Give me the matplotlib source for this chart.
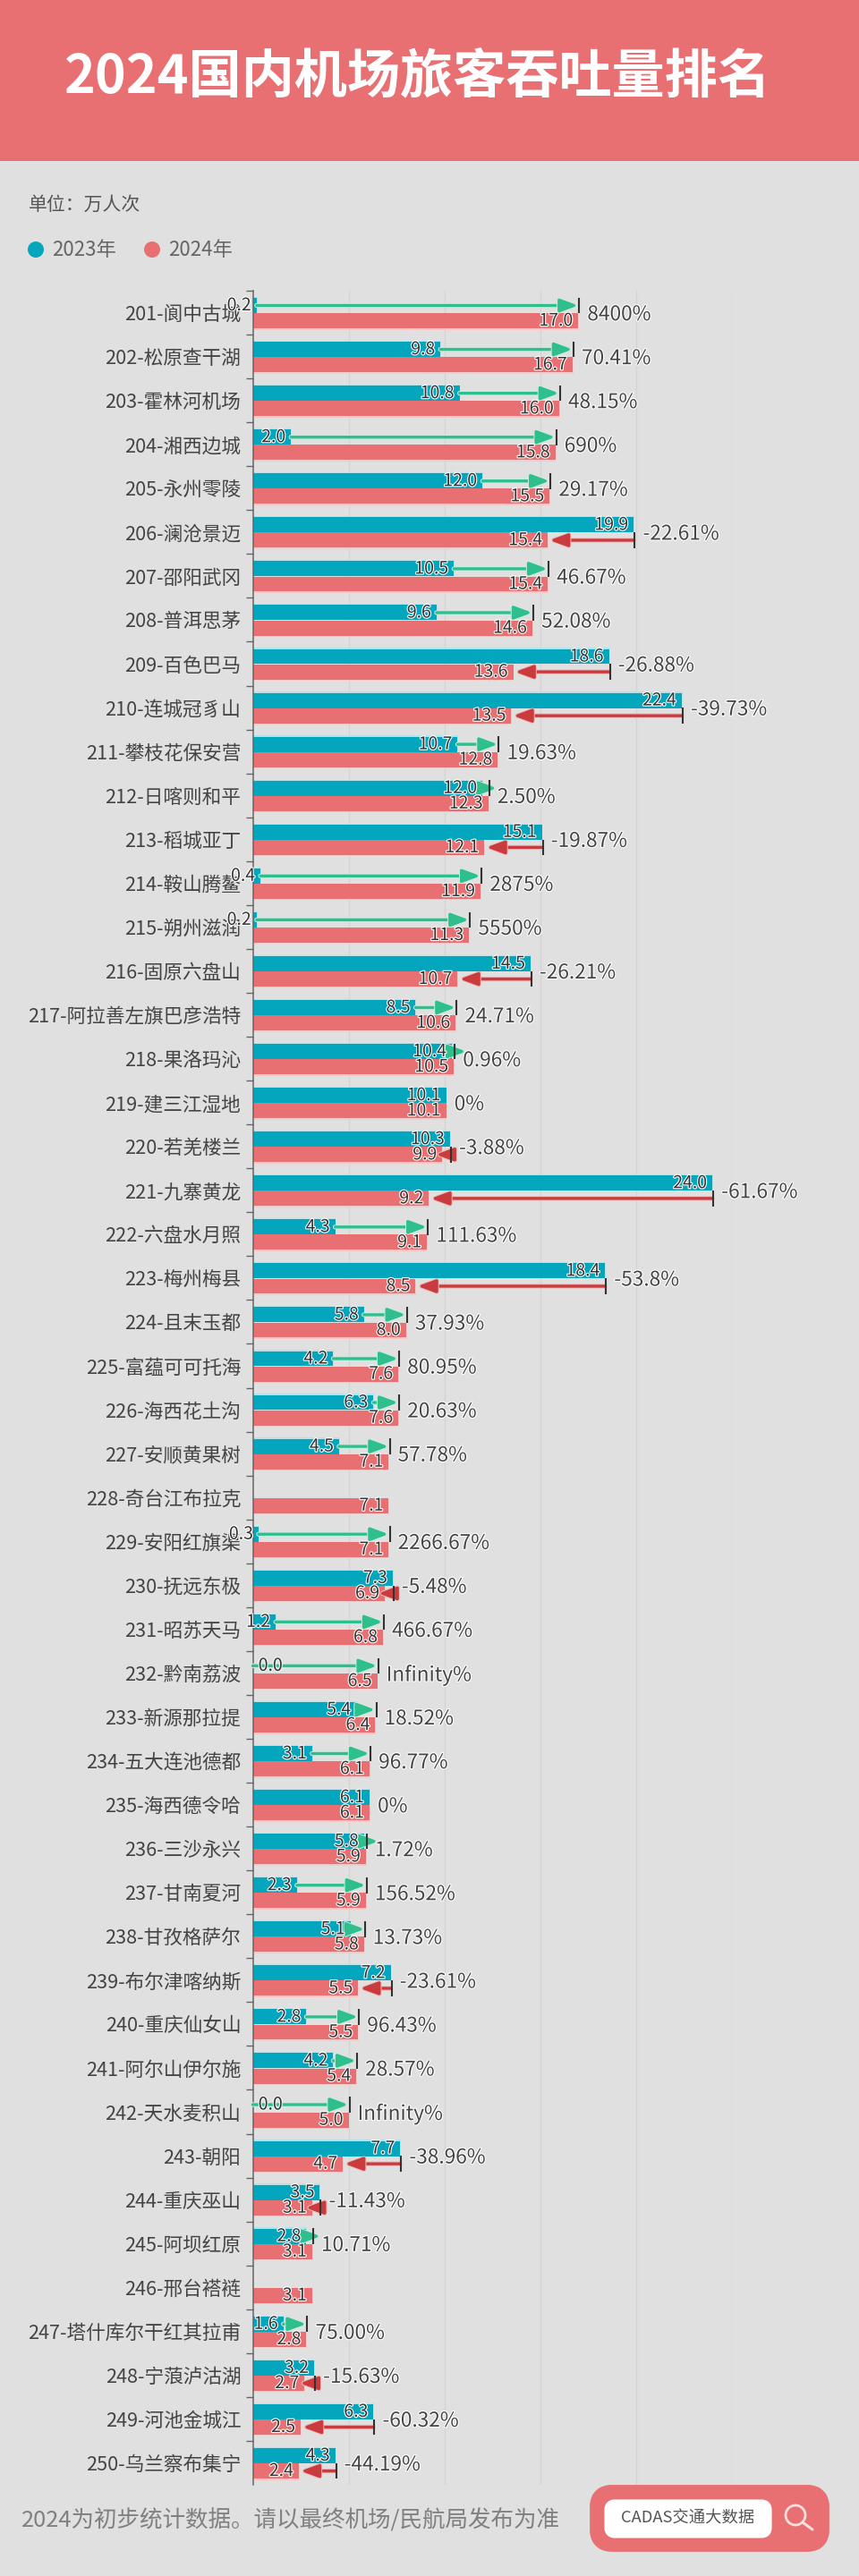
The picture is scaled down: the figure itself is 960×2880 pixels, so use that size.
import numpy as np
import matplotlib
matplotlib.use("Agg")
import matplotlib.pyplot as plt
import matplotlib.patheffects as pe
from matplotlib.patches import Circle, FancyBboxPatch, Rectangle

plt.rcParams["font.family"] = ["Noto Sans CJK SC", "DejaVu Sans"]

airports = ["201-阆中古城", "202-松原查干湖", "203-霍林河机场", "204-湘西边城", "205-永州零陵",
            "206-澜沧景迈", "207-邵阳武冈", "208-普洱思茅", "209-百色巴马", "210-连城冠豸山",
            "211-攀枝花保安营", "212-日喀则和平", "213-稻城亚丁", "214-鞍山腾鳌", "215-朔州滋润",
            "216-固原六盘山", "217-阿拉善左旗巴彦浩特", "218-果洛玛沁", "219-建三江湿地", "220-若羌楼兰",
            "221-九寨黄龙", "222-六盘水月照", "223-梅州梅县", "224-且末玉都", "225-富蕴可可托海",
            "226-海西花土沟", "227-安顺黄果树", "228-奇台江布拉克", "229-安阳红旗渠", "230-抚远东极",
            "231-昭苏天马", "232-黔南荔波", "233-新源那拉提", "234-五大连池德都", "235-海西德令哈",
            "236-三沙永兴", "237-甘南夏河", "238-甘孜格萨尔", "239-布尔津喀纳斯", "240-重庆仙女山",
            "241-阿尔山伊尔施", "242-天水麦积山", "243-朝阳", "244-重庆巫山", "245-阿坝红原",
            "246-邢台褡裢", "247-塔什库尔干红其拉甫", "248-宁蒗泸沽湖", "249-河池金城江", "250-乌兰察布集宁"]
pax_2023 = [0.2, 9.8, 10.8, 2.0, 12.0, 19.9, 10.5, 9.6, 18.6, 22.4,
            10.7, 12.0, 15.1, 0.4, 0.2, 14.5, 8.5, 10.4, 10.1, 10.3,
            24.0, 4.3, 18.4, 5.8, 4.2, 6.3, 4.5, None, 0.3, 7.3,
            1.2, 0.0, 5.4, 3.1, 6.1, 5.8, 2.3, 5.1, 7.2, 2.8,
            4.2, 0.0, 7.7, 3.5, 2.8, None, 1.6, 3.2, 6.3, 4.3]
pax_2024 = [17.0, 16.7, 16.0, 15.8, 15.5, 15.4, 15.4, 14.6, 13.6, 13.5,
            12.8, 12.3, 12.1, 11.9, 11.3, 10.7, 10.6, 10.5, 10.1, 9.9,
            9.2, 9.1, 8.5, 8.0, 7.6, 7.6, 7.1, 7.1, 7.1, 6.9,
            6.8, 6.5, 6.4, 6.1, 6.1, 5.9, 5.9, 5.8, 5.5, 5.5,
            5.4, 5.0, 4.7, 3.1, 3.1, 3.1, 2.8, 2.7, 2.5, 2.4]
change = ["8400%", "70.41%", "48.15%", "690%", "29.17%", "-22.61%", "46.67%", "52.08%", "-26.88%", "-39.73%",
          "19.63%", "2.50%", "-19.87%", "2875%", "5550%", "-26.21%", "24.71%", "0.96%", "0%", "-3.88%",
          "-61.67%", "111.63%", "-53.8%", "37.93%", "80.95%", "20.63%", "57.78%", "", "2266.67%", "-5.48%",
          "466.67%", "Infinity%", "18.52%", "96.77%", "0%", "1.72%", "156.52%", "13.73%", "-23.61%", "96.43%",
          "28.57%", "Infinity%", "-38.96%", "-11.43%", "10.71%", "", "75.00%", "-15.63%", "-60.32%", "-44.19%"]

BG = "#E0E0E0"
TEAL = "#03A6BD"
CORAL = "#E97072"
UP = "#2FBF8C"
DOWN = "#C93B3C"
TEXT = "#444444"
HEAD = 0.75  # arrow head length in axis units

W, H = 960, 2880
fig = plt.figure(figsize=(W / 100, H / 100), dpi=100, facecolor=BG)

# page furniture, drawn in pixel coordinates
page = fig.add_axes([0, 0, 1, 1])
page.set_xlim(0, W)
page.set_ylim(H, 0)
page.axis("off")
page.add_patch(Rectangle((0, 0), W, 180, color=CORAL, lw=0))
page.text(467, 86, "2024国内机场旅客吞吐量排名", color="white", fontsize=42.6,
          fontweight="bold", ha="center", va="center")
page.text(32, 229, "单位：万人次", color="#555555", fontsize=15, va="center")
page.add_patch(Circle((40, 279), 9, color=TEAL, lw=0))
page.text(58, 279, "2023年", color="#666666", fontsize=16, va="center")
page.add_patch(Circle((170, 279), 9, color=CORAL, lw=0))
page.text(188, 279, "2024年", color="#666666", fontsize=16, va="center")
page.text(24, 2818, "2024为初步统计数据。请以最终机场/民航局发布为准", color="#808080",
          fontsize=18.4, va="center")
page.add_patch(FancyBboxPatch((673, 2792), 240, 47, boxstyle="round,pad=0,rounding_size=1",
                              mutation_scale=10, color=CORAL, lw=20, joinstyle="round"))
page.add_patch(FancyBboxPatch((681, 2800), 176, 32, boxstyle="round,pad=0,rounding_size=1",
                              mutation_scale=6, color="white", lw=8, joinstyle="round"))
page.text(769, 2816, "CADAS交通大数据", color="#555555", fontsize=13.2, ha="center", va="center")
page.add_patch(Circle((889, 2812), 11, fill=False, ec="#FBDEDE", lw=2))
page.plot([897, 908], [2820, 2828], color="#FBDEDE", lw=2.2, solid_capstyle="round")

# chart
ax = fig.add_axes([282.5 / W, 1 - 2778 / H, 535 / W, (2778 - 325) / H], facecolor="none")
n = len(airports)
v23 = np.array(pax_2023, dtype=float)
v24 = np.array(pax_2024, dtype=float)
rows = np.arange(n)
y23 = rows + 0.337
y24 = rows + 0.686

# pale fringe above the 2023 bars and below the 2024 bars
ax.barh(y23 - 0.025, v23 + 0.04, height=0.345, color="#B5E2E8", lw=0, zorder=1.5)
ax.barh(y24 + 0.03, v24 + 0.04, height=0.345, color="#F6C8C8", lw=0, zorder=1.5)
ax.barh(y23, v23, height=0.345, color=TEAL, lw=0, zorder=2)
ax.barh(y24, v24, height=0.345, color=CORAL, lw=0, zorder=2)

halo = [pe.withStroke(linewidth=1.6, foreground="white")]
for i in rows:
    has_23 = not np.isnan(v23[i])
    # arrow, end tick and change label
    if has_23 and v23[i] != v24[i]:
        rising = v24[i] > v23[i]
        if rising:
            y_arrow, tip, mark_x = y23[i], max(v24[i], v23[i] + HEAD), v24[i] + 0.05
            shade, glow = UP, "#CDEBE0"
        else:
            y_arrow, tip, mark_x = y24[i], min(v24[i] + 0.1, v23[i] - HEAD), v23[i] + 0.05
            shade, glow = DOWN, "#EDB9B9"
        arrow = ax.annotate("", xy=(tip, y_arrow), xytext=(v23[i], y_arrow), zorder=3,
                            arrowprops=dict(arrowstyle="-|>,head_length=1.2,head_width=0.44",
                                            mutation_scale=10, color=shade, lw=2.4,
                                            shrinkA=0, shrinkB=0))
        arrow.arrow_patch.set_path_effects([pe.withStroke(linewidth=3.8, foreground=glow)])
        ax.plot([mark_x, mark_x], [y_arrow - 0.18, y_arrow + 0.18], color="#333333",
                lw=1.5, zorder=4, solid_capstyle="butt")
    else:
        mark_x = v24[i]
    if change[i]:
        ax.annotate(change[i], xy=(mark_x, i + 0.5), xytext=(6.5, -1.5), textcoords="offset points",
                    fontsize=16.3, color=TEXT, va="center", path_effects=halo, zorder=6)
    # value labels inside the bar ends
    if has_23:
        if v23[i] == 0:
            ax.annotate("0.0", xy=(0, y23[i]), xytext=(4.5, 0), textcoords="offset points",
                        fontsize=14, color="#333333", va="center", ha="left",
                        path_effects=[pe.withStroke(linewidth=1.6, foreground="#EAF6F2")], zorder=5)
        else:
            ax.annotate(f"{v23[i]:.1f}", xy=(v23[i], y23[i]), xytext=(-4.3, 0), textcoords="offset points",
                        fontsize=14, color="#333333", va="center", ha="right", path_effects=halo, zorder=5)
    ax.annotate(f"{v24[i]:.1f}", xy=(v24[i], y24[i]), xytext=(-4.3, 0), textcoords="offset points",
                fontsize=14, color="#333333", va="center", ha="right", path_effects=halo, zorder=5)

ax.set_xlim(0, 25)
ax.set_ylim(n, 0)
ax.set_xticks(np.arange(5, 30, 5))
ax.tick_params(axis="x", length=0, labelbottom=False)
ax.xaxis.grid(True, color="#D4D4D4", lw=1)
ax.set_axisbelow(True)
ax.set_yticks(rows)
ax.set_yticklabels([])
ax.tick_params(axis="y", which="major", length=5.8, width=1, color="#666666")
ax.set_yticks(rows + 0.5, minor=True)
ax.set_yticklabels(airports, minor=True, fontsize=15.6, color=TEXT)
ax.tick_params(axis="y", which="minor", length=0, pad=9.5)
for side in ["top", "right", "bottom"]:
    ax.spines[side].set_visible(False)
ax.spines["left"].set_color("#666666")
ax.spines["left"].set_linewidth(1.1)

fig.savefig("out.png", dpi=100, facecolor=BG)
